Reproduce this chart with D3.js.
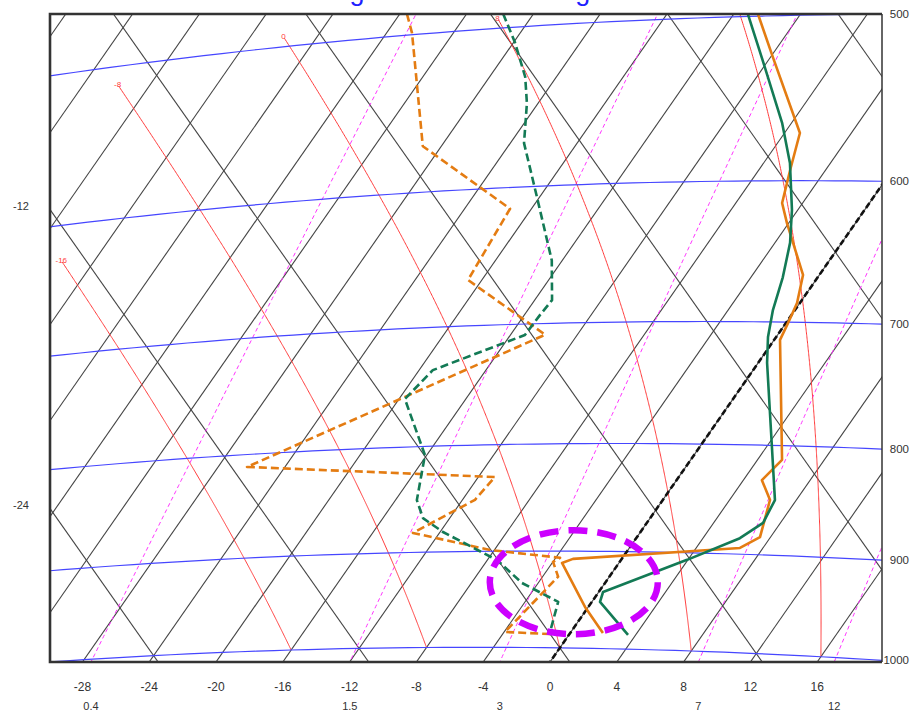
<!DOCTYPE html>
<html><head><meta charset="utf-8">
<script src="https://cdn.jsdelivr.net/npm/d3@7"></script>
<style>body{margin:0;background:#fff}svg{display:block}</style>
</head><body>
<svg id="c" width="910" height="711"></svg>
<script>
// ---------------- data ----------------
const titleText = "Sounding of the Ground Fog Event";
const isobarLevels = [500, 600, 700, 800, 900, 1000];
const isothermLabels = [-28, -24, -20, -16, -12, -8, -4, 0, 4, 8, 12, 16];
const isothermStep = 4;
const dryAdiabats = [-48, -36, -24, -12, 0, 12, 24, 36, 48, 60, 72];
const thetaLabels = [-12, -24];
const mixingRatios = [0.4, 1.5, 3, 7, 12];
const moistThetaW = [-16, -8, 0, 8, 16];
const moistTopP = [627, 512, 495, 495, 470];

// [pressure hPa, temperature °C]
const tempA = [[498.8,-14.55],[523.5,-11.86],[569.4,-7.08],[592.8,-6.13],[614.8,-5.23],[628.5,-4.10],[664.9,-0.98],[685.5,-0.17],[700.8,0.13],[713.7,0.35],[812.3,5.47],[830.7,5.11],[848.3,6.42],[883.1,7.37],[894.0,6.62],[907.6,-2.92],[911.7,-3.41],[956.2,-0.20],[983.3,1.96]];
const tempB = [[498.7,-15.15],[525.2,-12.34],[563.0,-8.57],[588.4,-6.43],[619.5,-4.35],[642.2,-3.09],[666.8,-2.09],[691.0,-1.32],[711.6,-0.49],[731.8,0.53],[801.6,4.34],[848.3,6.72],[869.6,6.96],[884.7,6.21],[906.9,3.95],[940.6,0.26],[950.8,0.49],[984.7,3.54]];
const dewA = [[487.8,-35.57],[499.0,-34.47],[569.2,-29.11],[614.6,-21.28],[664.7,-20.83],[708.8,-13.93],[811.4,-26.27],[829.2,-11.01],[850.1,-11.25],[880.7,-13.59],[898.7,-8.26],[906.6,-3.74],[910.7,-3.99],[925.5,-3.07],[983.3,-3.95],[985.4,-0.87]];
const dewB = [[491.9,-29.82],[508.7,-27.93],[529.6,-25.87],[545.8,-24.67],[571.0,-23.18],[607.3,-20.16],[652.5,-16.63],[682.1,-14.96],[693.4,-15.06],[708.6,-15.13],[734.6,-19.18],[757.9,-19.65],[807.8,-16.11],[849.2,-14.72],[866.6,-13.60],[880.4,-11.83],[908.8,-7.42],[932.0,-4.97],[951.2,-2.02],[983.0,-1.25]];
const highlight = {t: -1.9, p: 931};

// ---------------- projection (tephigram) ----------------
const L = 50, R = 882, TOP = 14, B = 662;
const S1 = 1.437, S2 = 1.42;
const uScale = d3.scaleLinear().domain([0, 1]).range([1010.7, 1010.7 + 16.7]);           // T -> u
const wScale = d3.scaleLinear().domain([5.4939, 6.4939]).range([-416.2, -416.2 + 1 / 2.234e-4]); // ln(theta) -> w
const K = 0.2857;
function projTh(t, thK) {
  const u = uScale(t), w = wScale(Math.log(thK));
  const Y = (u - w) / (1 / S1 + 1 / S2);
  return [w + Y / S2, Y];
}
function proj(t, p) { return projTh(t, (t + 273.15) * Math.pow(1000 / p, K)); }

function crossY(pts, y) {
  for (let i = 0; i < pts.length - 1; i++) {
    const a = pts[i], b = pts[i + 1];
    if ((a[1] - y) * (b[1] - y) <= 0 && a[1] !== b[1]) {
      return a[0] + (b[0] - a[0]) * (y - a[1]) / (b[1] - a[1]);
    }
  }
  return null;
}
function crossX(pts, x) {
  for (let i = 0; i < pts.length - 1; i++) {
    const a = pts[i], b = pts[i + 1];
    if ((a[0] - x) * (b[0] - x) <= 0 && a[0] !== b[0]) {
      return a[1] + (b[1] - a[1]) * (x - a[0]) / (b[0] - a[0]);
    }
  }
  return null;
}
function es(t) { return 6.112 * Math.exp(17.67 * t / (t + 243.5)); }
function tdFromW(wgkg, p) {
  const e = wgkg * p / 622;
  const l = Math.log(e / 6.112);
  return 243.5 * l / (17.67 - l);
}
function dTdp(t, p) {
  const Rd = 287.04, cp = 1005.7, Lv = 2.501e6, eps = 0.622;
  const TK = t + 273.15, e = es(t), rs = eps * e / (p - e);
  return (Rd * TK + Lv * rs) / (p * (cp + Lv * Lv * rs * eps / (Rd * TK * TK)));
}

const svg = d3.select('#c');
const line = d3.line().x(d => d[0]).y(d => d[1]);
const FONT = "'Liberation Sans', Arial, sans-serif";

svg.append('defs').append('clipPath').attr('id', 'clip')
  .append('rect').attr('x', L).attr('y', TOP).attr('width', R - L).attr('height', B - TOP);
const g = svg.append('g').attr('clip-path', 'url(#clip)');

// isotherms
const isoT = d3.range(-120, 44, isothermStep);
g.append('g').selectAll('path').data(isoT).join('path')
  .attr('d', t => line([proj(t, 1300), proj(t, 200)]))
  .attr('fill', 'none').attr('stroke', '#444').attr('stroke-width', 1.1);

// dry adiabats
g.append('g').selectAll('path').data(dryAdiabats).join('path')
  .attr('d', th => line([projTh(-140, th + 273.15), projTh(70, th + 273.15)]))
  .attr('fill', 'none').attr('stroke', '#444').attr('stroke-width', 1.1);

// mixing ratio lines
const mixPts = mixingRatios.map(w => d3.range(1100, 379, -5).map(p => proj(tdFromW(w, p), p)));
g.append('g').selectAll('path').data(mixPts).join('path')
  .attr('d', line).attr('fill', 'none').attr('stroke', '#ff33ff')
  .attr('stroke-width', 1).attr('stroke-dasharray', '4,3');

// moist adiabats
const moistPts = moistThetaW.map((tw, i) => {
  const pts = []; let t = tw;
  for (let p = 1000; p >= moistTopP[i]; p -= 1) {
    pts.push(proj(t, p));
    const k1 = dTdp(t, p), k2 = dTdp(t - 0.5 * k1, p - 0.5);
    t -= k2;
  }
  return pts;
});
g.append('g').selectAll('path').data(moistPts).join('path')
  .attr('d', line).attr('fill', 'none').attr('stroke', '#ff3b3b').attr('stroke-width', 1);
g.append('g').selectAll('text').data(moistPts).join('text')
  .attr('x', d => d[d.length - 1][0] - 1).attr('y', d => d[d.length - 1][1] + 1)
  .attr('text-anchor', 'middle').attr('font-family', FONT).attr('font-size', 8)
  .attr('fill', '#ff3b3b').text((d, i) => moistThetaW[i]);

// isobars
const isobarPts = isobarLevels.map(p => d3.range(-90, 50.1, 1).map(t => proj(t, p)));
g.append('g').selectAll('path').data(isobarPts).join('path')
  .attr('d', line).attr('fill', 'none').attr('stroke', '#4646ff').attr('stroke-width', 1.2);

// 0 °C isotherm highlighted
g.append('path').attr('d', line([proj(0, 1300), proj(0, 200)]))
  .attr('fill', 'none').attr('stroke', '#111').attr('stroke-width', 2.6).attr('stroke-dasharray', '6,3');

// profiles
const series = [
  {d: dewA, c: '#e47c12', dash: '8,4'},
  {d: dewB, c: '#137a55', dash: '8,4'},
  {d: tempA, c: '#e47c12', dash: null},
  {d: tempB, c: '#137a55', dash: null}
];
g.append('g').selectAll('path').data(series).join('path')
  .attr('d', s => line(s.d.map(q => proj(q[1], q[0]))))
  .attr('fill', 'none').attr('stroke', s => s.c).attr('stroke-width', 2.6)
  .attr('stroke-linejoin', 'round').attr('stroke-dasharray', s => s.dash);

// highlight ellipse
const hc = proj(highlight.t, highlight.p);
svg.append('ellipse').attr('cx', hc[0]).attr('cy', hc[1]).attr('rx', 84).attr('ry', 52)
  .attr('fill', 'none').attr('stroke', '#cc00ff').attr('stroke-width', 6.5).attr('stroke-dasharray', '19,10');

// frame
svg.append('line').attr('x1', R).attr('x2', R).attr('y1', TOP).attr('y2', B).attr('stroke', '#333').attr('stroke-width', 1.5);
svg.append('path').attr('d', `M${R},${TOP}H${L}V${B}H${R}`).attr('fill', 'none').attr('stroke', '#333').attr('stroke-width', 2.6);

// right labels (pressure)
svg.append('g').selectAll('text').data(isobarLevels).join('text')
  .attr('x', 909).attr('y', (p, i) => crossX(isobarPts[i], R))
  .attr('dy', '0.35em').attr('text-anchor', 'end').attr('font-family', FONT).attr('font-size', 11.5).attr('fill', '#333')
  .text(p => p);

// bottom temperature labels
svg.append('g').selectAll('text').data(isothermLabels).join('text')
  .attr('x', t => crossY([proj(t, 1300), proj(t, 200)], B)).attr('y', 691)
  .attr('text-anchor', 'middle').attr('font-family', FONT).attr('font-size', 12).attr('fill', '#333')
  .text(t => t);

// bottom mixing ratio labels
svg.append('g').selectAll('text').data(mixingRatios).join('text')
  .attr('x', (w, i) => crossY(mixPts[i], B)).attr('y', 710)
  .attr('text-anchor', 'middle').attr('font-family', FONT).attr('font-size', 11).attr('fill', '#333')
  .text(w => w);

// left theta labels
svg.append('g').selectAll('text').data(thetaLabels).join('text')
  .attr('x', 21).attr('y', th => crossX([projTh(-140, th + 273.15), projTh(70, th + 273.15)], L) - 3)
  .attr('dy', '0.35em').attr('text-anchor', 'middle').attr('font-family', FONT).attr('font-size', 11).attr('fill', '#333')
  .text(th => th);

// title (mostly above the visible area, only descenders show)
const cv = document.createElement('canvas').getContext('2d');
const f0 = 26; cv.font = `${f0}px "Liberation Sans"`;
const i1 = titleText.indexOf('g'), i2 = titleText.lastIndexOf('g');
const gw = cv.measureText('g').width;
const x1 = cv.measureText(titleText.slice(0, i1)).width + gw / 2;
const x2 = cv.measureText(titleText.slice(0, i2)).width + gw / 2;
const fs = f0 * 226 / (x2 - x1);
svg.append('text').attr('x', 357 - x1 * fs / f0).attr('y', 0.3)
  .attr('font-family', FONT).attr('font-size', fs).attr('fill', '#1f1fff').text(titleText);
</script>
</body></html>
